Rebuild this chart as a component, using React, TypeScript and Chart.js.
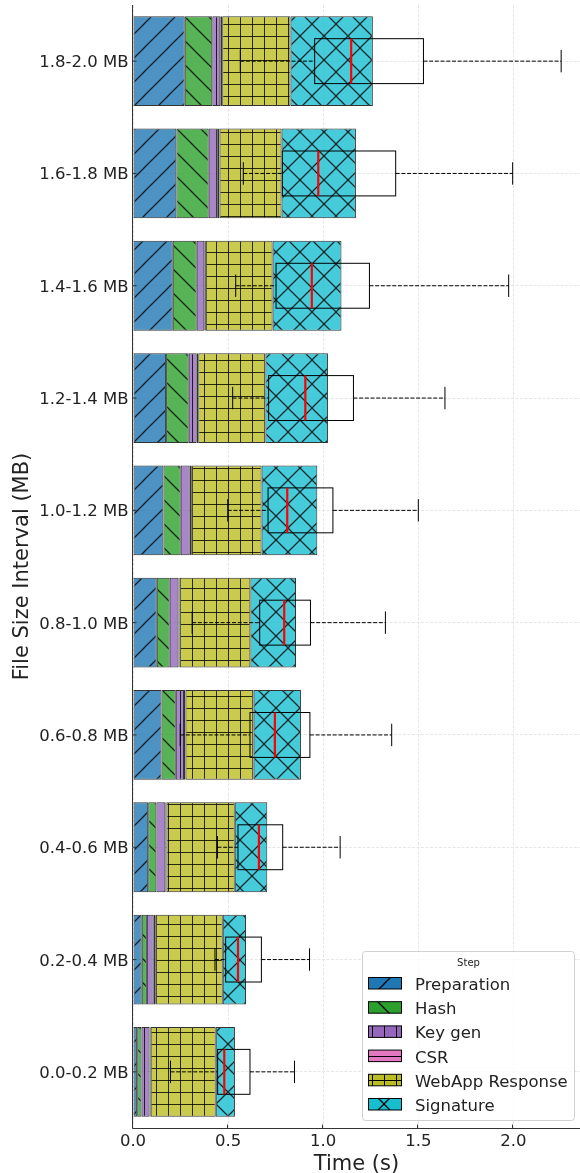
import React, { useEffect, useRef } from "react";
import { Chart, registerables } from "chart.js";

Chart.register(...registerables);

// ---- Data (bottom row first) ----
const categories = [
  "0.0-0.2 MB",
  "0.2-0.4 MB",
  "0.4-0.6 MB",
  "0.6-0.8 MB",
  "0.8-1.0 MB",
  "1.0-1.2 MB",
  "1.2-1.4 MB",
  "1.4-1.6 MB",
  "1.6-1.8 MB",
  "1.8-2.0 MB",
];

const stepNames = ["Preparation", "Hash", "Key gen", "CSR", "WebApp Response", "Signature"];

const preparation = [0.022, 0.046, 0.080, 0.150, 0.125, 0.160, 0.174, 0.209, 0.228, 0.272];
const hashStep = [0.023, 0.027, 0.043, 0.075, 0.068, 0.091, 0.119, 0.126, 0.170, 0.145];
const keyGen = [0.042, 0.036, 0.047, 0.043, 0.046, 0.047, 0.042, 0.040, 0.048, 0.042];
const csr = [0.006, 0.008, 0.006, 0.008, 0.006, 0.008, 0.008, 0.008, 0.009, 0.010];
const webAppResponse = [0.342, 0.355, 0.359, 0.358, 0.372, 0.370, 0.353, 0.351, 0.326, 0.359];
const signature = [0.101, 0.122, 0.171, 0.249, 0.240, 0.293, 0.329, 0.362, 0.391, 0.433];

// Box plot of total time per interval
const whiskerLow = [0.197, 0.431, 0.444, 0.248, 0.311, 0.498, 0.524, 0.540, 0.580, 0.564];
const quartile1 = [0.445, 0.487, 0.552, 0.615, 0.666, 0.710, 0.713, 0.752, 0.785, 0.955];
const medians = [0.480, 0.552, 0.662, 0.746, 0.795, 0.811, 0.906, 0.940, 0.974, 1.147];
const quartile3 = [0.615, 0.675, 0.787, 0.930, 0.933, 1.051, 1.159, 1.243, 1.381, 1.527];
const whiskerHigh = [0.849, 0.928, 1.089, 1.360, 1.327, 1.500, 1.640, 1.975, 1.996, 2.251];

const xTickValues = [0, 0.5, 1.0, 1.5, 2.0];
const xTickLabels = ["0.0", "0.5", "1.0", "1.5", "2.0"];

const stepColors = ["#1f77b4", "#2ca02c", "#9467bd", "#e377c2", "#bcbd22", "#17becf"];
const stepHatches = ["/", "\\", "|", "-", "+", "x"];

const FONT = "'DejaVu Sans', 'Liberation Sans', sans-serif";

function rgba(hex: string, a: number) {
  const r = parseInt(hex.slice(1, 3), 16);
  const g = parseInt(hex.slice(3, 5), 16);
  const b = parseInt(hex.slice(5, 7), 16);
  return `rgba(${r},${g},${b},${a})`;
}

function makePattern(ctx: CanvasRenderingContext2D, hex: string, hatch: string, alpha: number) {
  const diag = hatch === "/" || hatch === "\\" || hatch === "x";
  const size = diag ? 24 : 12;
  const c = document.createElement("canvas");
  c.width = size;
  c.height = size;
  const g = c.getContext("2d") as CanvasRenderingContext2D;
  g.fillStyle = rgba(hex, alpha);
  g.fillRect(0, 0, size, size);
  g.strokeStyle = `rgba(0,0,0,${alpha})`;
  g.lineWidth = diag ? 1.25 : 1;
  g.beginPath();
  if (hatch === "/" || hatch === "x") {
    for (const cc of [0, size, 2 * size]) {
      g.moveTo(cc + 2, -2);
      g.lineTo(cc - size - 2, size + 2);
    }
  }
  if (hatch === "\\" || hatch === "x") {
    for (const cc of [-size, 0, size]) {
      g.moveTo(cc - 2, -2);
      g.lineTo(cc + size + 2, size + 2);
    }
  }
  if (hatch === "|" || hatch === "+") {
    g.moveTo(0.5, 0);
    g.lineTo(0.5, size);
  }
  if (hatch === "-" || hatch === "+") {
    g.moveTo(0, 0.5);
    g.lineTo(size, 0.5);
  }
  g.stroke();
  return ctx.createPattern(c, "repeat") as CanvasPattern;
}

const overlayPlugin = {
  id: "overlay",
  afterDatasetsDraw(chart: any) {
    const { ctx, chartArea } = chart;
    const x = chart.scales.x;
    const y = chart.scales.y;
    const rowH = Math.abs(y.getPixelForValue(1) - y.getPixelForValue(0));
    const boxH = rowH * 0.4;
    const capH = rowH * 0.2;

    ctx.save();
    // box plots
    for (let i = 0; i < categories.length; i++) {
      const yc = y.getPixelForValue(i);
      const lo = x.getPixelForValue(whiskerLow[i]);
      const p1 = x.getPixelForValue(quartile1[i]);
      const md = x.getPixelForValue(medians[i]);
      const p3 = x.getPixelForValue(quartile3[i]);
      const hi = x.getPixelForValue(whiskerHigh[i]);
      ctx.strokeStyle = "#000";
      ctx.lineWidth = 1;
      ctx.setLineDash([4, 1.7]);
      ctx.beginPath();
      ctx.moveTo(lo, yc);
      ctx.lineTo(p1, yc);
      ctx.moveTo(p3, yc);
      ctx.lineTo(hi, yc);
      ctx.stroke();
      ctx.setLineDash([]);
      ctx.beginPath();
      ctx.moveTo(lo, yc - capH / 2);
      ctx.lineTo(lo, yc + capH / 2);
      ctx.moveTo(hi, yc - capH / 2);
      ctx.lineTo(hi, yc + capH / 2);
      ctx.stroke();
      ctx.strokeRect(p1, yc - boxH / 2, p3 - p1, boxH);
      ctx.strokeStyle = "#ff0000";
      ctx.lineWidth = 2.2;
      ctx.beginPath();
      ctx.moveTo(md, yc - boxH / 2);
      ctx.lineTo(md, yc + boxH / 2);
      ctx.stroke();
    }

    // spines
    ctx.strokeStyle = "#333";
    ctx.lineWidth = 1;
    ctx.beginPath();
    ctx.moveTo(chartArea.left - 0.5, chartArea.top);
    ctx.lineTo(chartArea.left - 0.5, chartArea.bottom + 0.5);
    ctx.lineTo(chartArea.right, chartArea.bottom + 0.5);
    // inward ticks
    for (const v of xTickValues) {
      const px = Math.round(x.getPixelForValue(v)) - 0.5;
      ctx.moveTo(px, chartArea.bottom);
      ctx.lineTo(px, chartArea.bottom - 3.5);
    }
    for (let i = 0; i < categories.length; i++) {
      const py = y.getPixelForValue(i);
      ctx.moveTo(chartArea.left, py);
      ctx.lineTo(chartArea.left + 3.5, py);
    }
    ctx.stroke();

    // tick labels
    ctx.fillStyle = "#222";
    ctx.font = `16.5px ${FONT}`;
    ctx.textAlign = "right";
    ctx.textBaseline = "alphabetic";
    for (let i = 0; i < categories.length; i++) {
      const py = y.getPixelForValue(i);
      ctx.fillText(categories[i], chartArea.left - 4.5, py + 6);
    }
    ctx.textAlign = "center";
    for (let k = 0; k < xTickValues.length; k++) {
      const px = x.getPixelForValue(xTickValues[k]);
      ctx.fillText(xTickLabels[k], px, chartArea.bottom + 17.5);
    }

    // axis titles
    ctx.font = `21px ${FONT}`;
    ctx.fillText("Time (s)", (chartArea.left + chartArea.right) / 2, 1169.5);
    ctx.save();
    ctx.translate(27.5, (chartArea.top + chartArea.bottom) / 2);
    ctx.rotate(-Math.PI / 2);
    ctx.fillText("File Size Interval (MB)", 0, 0);
    ctx.restore();

    // legend
    const lx = 362.5, ly = 951.5, lw = 212, lh = 169, r = 3;
    ctx.beginPath();
    ctx.moveTo(lx + r, ly);
    ctx.lineTo(lx + lw - r, ly);
    ctx.arcTo(lx + lw, ly, lx + lw, ly + r, r);
    ctx.lineTo(lx + lw, ly + lh - r);
    ctx.arcTo(lx + lw, ly + lh, lx + lw - r, ly + lh, r);
    ctx.lineTo(lx + r, ly + lh);
    ctx.arcTo(lx, ly + lh, lx, ly + lh - r, r);
    ctx.lineTo(lx, ly + r);
    ctx.arcTo(lx, ly, lx + r, ly, r);
    ctx.closePath();
    ctx.fillStyle = "rgba(255,255,255,0.8)";
    ctx.fill();
    ctx.strokeStyle = "#d0d0d0";
    ctx.lineWidth = 1;
    ctx.stroke();

    ctx.fillStyle = "#222";
    ctx.font = `10px ${FONT}`;
    ctx.textAlign = "center";
    ctx.fillText("Step", lx + lw / 2, 965.5);

    ctx.font = `16.5px ${FONT}`;
    ctx.textAlign = "left";
    for (let k = 0; k < stepNames.length; k++) {
      const top = 977.5 + k * 24.2;
      const pat = makePattern(ctx, stepColors[k], stepHatches[k], 1);
      ctx.fillStyle = pat;
      ctx.fillRect(368.5, top, 33, 11.5);
      ctx.strokeStyle = "#000";
      ctx.lineWidth = 1;
      ctx.strokeRect(368.5, top, 33, 11.5);
      ctx.fillStyle = "#222";
      ctx.fillText(stepNames[k], 415, top + 12.4);
    }
    ctx.restore();
  },
};

export default function App() {
  const canvasRef = useRef<HTMLCanvasElement | null>(null);

  useEffect(() => {
    const canvas = canvasRef.current;
    if (!canvas) return;
    const ctx = canvas.getContext("2d") as CanvasRenderingContext2D;
    const series = [preparation, hashStep, keyGen, csr, webAppResponse, signature];
    const chart = new Chart(canvas, {
      type: "bar",
      data: {
        labels: categories,
        datasets: series.map((d, i) => ({
          label: stepNames[i],
          data: d,
          backgroundColor: makePattern(ctx, stepColors[i], stepHatches[i], 0.8),
          borderColor: "rgba(0,0,0,0.8)",
          borderWidth: 1,
          borderSkipped: false,
          categoryPercentage: 1,
          barPercentage: 0.8,
        })),
      },
      options: {
        indexAxis: "y",
        responsive: false,
        animation: false,
        devicePixelRatio: 1,
        layout: { padding: { top: 5, left: 0, right: 0, bottom: 0 } },
        plugins: { legend: { display: false }, tooltip: { enabled: false } },
        scales: {
          x: {
            type: "linear",
            stacked: true,
            min: 0,
            max: 2.35,
            ticks: { display: false, stepSize: 0.5, includeBounds: false },
            grid: { color: "#e6e6e6", drawTicks: false, lineWidth: 1 },
            border: { display: false, dash: [3, 1.5] },
            afterFit: (s: any) => {
              s.height = 45;
            },
          },
          y: {
            type: "category",
            stacked: true,
            reverse: true,
            ticks: { display: false },
            grid: { offset: false, color: "#e6e6e6", drawTicks: false, lineWidth: 1 },
            border: { display: false, dash: [3, 1.5] },
            afterFit: (s: any) => {
              s.width = 133;
            },
          },
        },
      } as any,
      plugins: [overlayPlugin],
    });
    return () => chart.destroy();
  }, []);

  return (
    <div style={{ position: "absolute", left: 0, top: 0, width: 580, height: 1173, background: "#fff" }}>
      <canvas ref={canvasRef} width={580} height={1173} style={{ display: "block", width: 580, height: 1173 }} />
    </div>
  );
}
